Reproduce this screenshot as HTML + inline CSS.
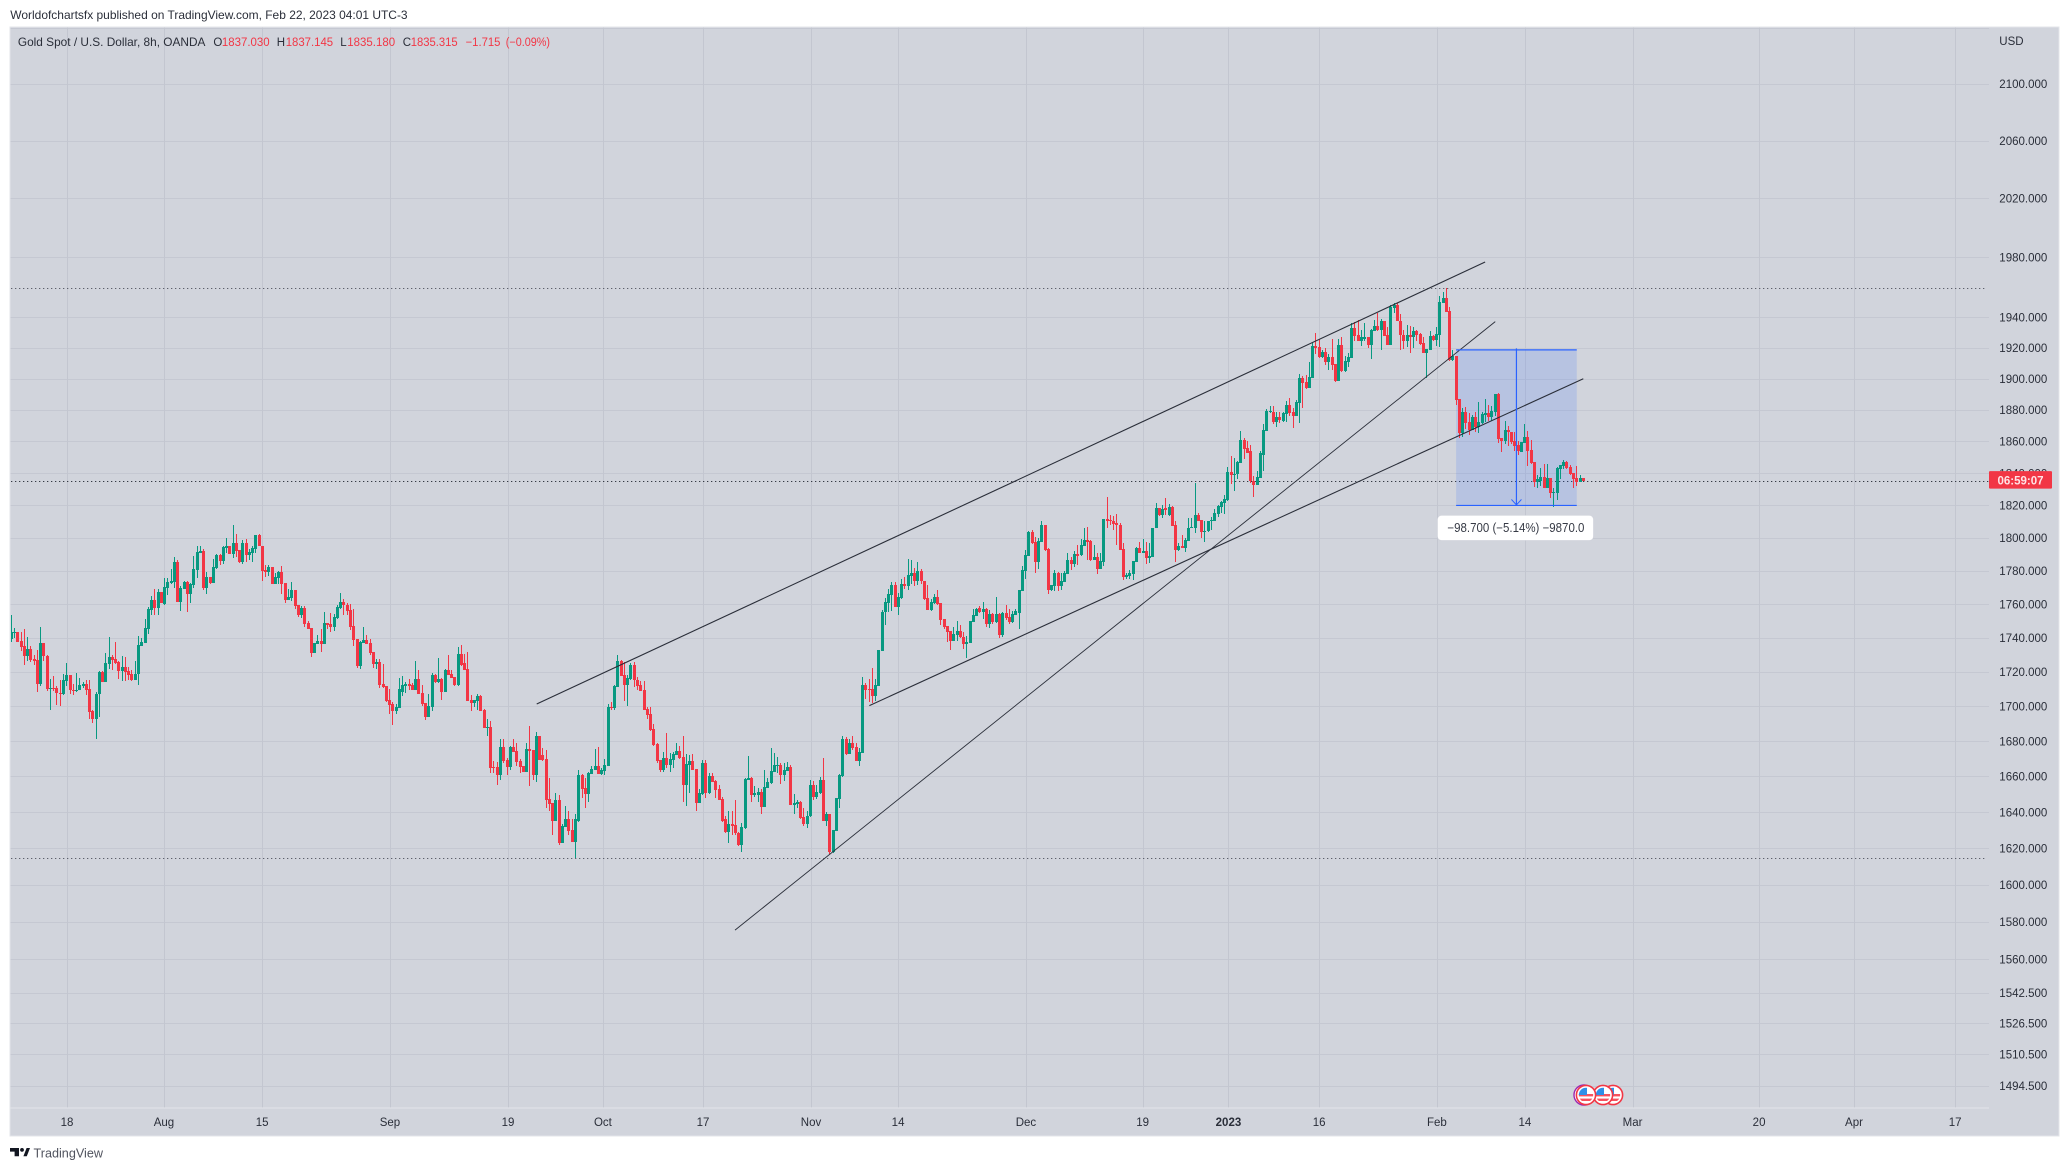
<!DOCTYPE html>
<html lang="en">
<head>
<meta charset="utf-8">
<title>Gold Spot / U.S. Dollar, 8h, OANDA</title>
<style>
html,body{margin:0;padding:0;background:#fff;}
svg{display:block;}
text{font-family:"Liberation Sans",sans-serif;font-size:11.5px;fill:#2a2e39;}
</style>
</head>
<body>
<svg id="chart" xmlns="http://www.w3.org/2000/svg" width="2069" height="1171" viewBox="0 0 2069 1171">
  <defs>
    <clipPath id="paneClip"><rect x="11" y="28" width="1978" height="1080"></rect></clipPath>
    <clipPath id="flagClip"><circle cx="0" cy="0" r="7.2"></circle></clipPath>
  </defs>
  <text id="pubLine" x="10.3" y="19" style="font-size:12px" textLength="397.3" lengthAdjust="spacingAndGlyphs">Worldofchartsfx published on TradingView.com, Feb 22, 2023 04:01 UTC-3</text>
  <rect x="10" y="27" width="2049" height="1109" fill="#d1d4dc" stroke="#e3e5ea" stroke-width="1"></rect>
  <g id="grid"></g>
  <g id="levels" clip-path="url(#paneClip)"></g>
  <rect id="measureFill" fill="#2962ff" fill-opacity="0.15"></rect>
  <g id="candles" clip-path="url(#paneClip)"></g>
  <g id="trendlines" clip-path="url(#paneClip)"></g>
  <g id="measure"></g>
  <line x1="10" y1="1108" x2="1989" y2="1108" stroke="#e3e5ea" stroke-width="1"></line>
  <g>
    <g transform="translate(1613,1095)">
      <circle r="9.6" fill="#fff" stroke="#f23645" stroke-width="1.6"></circle>
      <g clip-path="url(#flagClip)"><rect x="-8" y="-8" width="16" height="16" fill="#fff"></rect><rect x="-8" y="-1" width="16" height="2.4" fill="#f7525f"></rect><rect x="-8" y="3.6" width="16" height="2.4" fill="#f7525f"></rect><rect x="-8" y="-8" width="9" height="8" fill="#2f8fe8"></rect></g>
    </g>
    <g transform="translate(1603,1095)">
      <circle r="9.6" fill="#fff" stroke="#f23645" stroke-width="1.6"></circle>
      <g clip-path="url(#flagClip)"><rect x="-8" y="-8" width="16" height="16" fill="#fff"></rect><rect x="-8" y="-1" width="16" height="2.4" fill="#f7525f"></rect><rect x="-8" y="3.6" width="16" height="2.4" fill="#f7525f"></rect><rect x="-8" y="-8" width="9" height="8" fill="#2f8fe8"></rect></g>
    </g>
    <circle cx="1584" cy="1095" r="10" fill="#fff" stroke="#9c27b0" stroke-width="1.4"></circle>
    <g transform="translate(1586,1095)">
      <circle r="9.6" fill="#fff" stroke="#f23645" stroke-width="1.6"></circle>
      <g clip-path="url(#flagClip)"><rect x="-8" y="-8" width="16" height="16" fill="#fff"></rect><rect x="-8" y="-1" width="16" height="2.4" fill="#f7525f"></rect><rect x="-8" y="3.6" width="16" height="2.4" fill="#f7525f"></rect><rect x="-8" y="-8" width="9" height="8" fill="#2f8fe8"></rect></g>
    </g>
  </g>
  <g>
    <text x="17.9" y="46" style="font-size:12px" textLength="187.5" lengthAdjust="spacingAndGlyphs">Gold Spot / U.S. Dollar, 8h, OANDA</text>
    <text x="213.4" y="46">O</text>
    <text x="221.9" y="46" style="fill:#f23645" textLength="47.7" lengthAdjust="spacingAndGlyphs">1837.030</text>
    <text x="276.8" y="46">H</text>
    <text x="285.7" y="46" style="fill:#f23645" textLength="47.4" lengthAdjust="spacingAndGlyphs">1837.145</text>
    <text x="340.2" y="46">L</text>
    <text x="347.3" y="46" style="fill:#f23645" textLength="47.8" lengthAdjust="spacingAndGlyphs">1835.180</text>
    <text x="402.7" y="46">C</text>
    <text x="410.7" y="46" style="fill:#f23645" textLength="47" lengthAdjust="spacingAndGlyphs">1835.315</text>
    <text x="465.6" y="46" style="fill:#f23645" textLength="34.8" lengthAdjust="spacingAndGlyphs">−1.715</text>
    <text x="505.8" y="46" style="fill:#f23645" textLength="44.2" lengthAdjust="spacingAndGlyphs">(−0.09%)</text>
  </g>
  <text x="1999.3" y="45">USD</text>
  <g id="priceLabels"></g>
  <g id="timeLabels"></g>
  <g id="priceTag"></g>
  <g>
    <path d="M10 1148H19V1156.3H14.6V1151.6H10Z M23.4 1156.3L26.6 1148H30L26.8 1156.3Z" fill="#131722"></path>
    <circle cx="22" cy="1149.9" r="1.9" fill="#131722"></circle>
    <text x="33.5" y="1157.5" style="font-size:13px;fill:#50535e" textLength="69.5" lengthAdjust="spacingAndGlyphs">TradingView</text>
  </g>
</svg>
<script>
const opens=[
1739.3,1743,1743.5,1738,1735.2,1729.5,1733.4,1727.3,1726.9,1712.9,
1737,1729.3,1710,1710.8,1710.4,1707.8,1707.4,1714.7,1718,1709.6,
1708.8,1709.4,1711.7,1712.7,1709.8,1697.4,1692.8,1707,1719.8,1713.9,
1724.7,1728.7,1727.5,1725.7,1720.4,1722.8,1720.4,1718.6,1715.1,1718.8,
1735.2,1737,1745.2,1756.5,1762.4,1757.6,1767.1,1760,1769.5,1772.4,
1773,1785.4,1761.2,1768.9,1773,1765.9,1771.2,1780.7,1791.1,1791.9,
1769.5,1776.6,1772.4,1781.9,1789.6,1786,1793.7,1794.9,1790.2,1797.2,
1792.5,1785.4,1796.7,1789.6,1790.7,1793.1,1802,1794.9,1780.7,1779.5,
1782.5,1771.8,1776,1779.5,1772.4,1762.4,1763.6,1768.3,1759.4,1753.5,
1757.6,1748.8,1745.8,1731,1736.4,1738.1,1736.4,1748.8,1748.2,1746.4,
1751.7,1757.6,1761.2,1759.4,1756.5,1747,1739.3,1723.4,1737,1738.7,
1737,1731.6,1724.5,1725.7,1712.7,1711.5,1703.9,1701.5,1697.4,1699.1,
1708.4,1711.9,1713.1,1712.5,1709.6,1716,1707.8,1701.9,1694,1699.6,
1718.4,1714.3,1716,1708.4,1721.3,1719,1717,1712.5,1730.2,1724.9,
1721.9,1703.7,1701.9,1703.1,1706,1697.9,1687.7,1688.3,1665.2,1665.2,
1660.7,1676.5,1669.1,1665.2,1676.5,1674.2,1668.6,1665.8,1662.4,1675.3,
1674.8,1660.7,1682.7,1672,1669.7,1647.1,1644.9,1635.3,1646.6,1622.9,
1631.9,1635.9,1630.2,1623.4,1635.3,1660.7,1653.3,1649.9,1661.2,1663.5,
1665.8,1661.2,1662.9,1665.8,1699.6,1699,1711.3,1726.6,1718.4,1712.5,
1716,1724.3,1715.5,1712.5,1709.6,1698.5,1695.6,1687.2,1678.2,1669.1,
1663.5,1670.3,1666.3,1669.1,1672,1674.2,1670.8,1655,1666.3,1668.6,
1664,1644.9,1650,1667.4,1650.5,1660.1,1657.3,1652.8,1647.1,1635.9,
1629.1,1633.6,1633,1628.5,1621.8,1631.4,1657.9,1659,1649.4,1649.4,
1651.1,1642.6,1653.3,1656.2,1662.4,1665.8,1666.3,1660.7,1663,1665.2,
1643.8,1644.3,1645.4,1637.5,1633.6,1638.1,1655,1648.3,1650.5,1657.9,
1635.3,1638.7,1617.8,1629.6,1647.1,1660.1,1681.5,1672.5,1678.7,1676.5,
1668.6,1673.1,1712.5,1710.2,1710.2,1706,1711.9,1732.5,1755.4,1760.8,
1765.5,1771.5,1758.4,1763.7,1772,1770.9,1776.8,1778.6,1773.8,1779.8,
1773.8,1763.7,1756.6,1760.8,1764.3,1760.8,1751.3,1747.1,1744.1,1738.2,
1741.8,1744.1,1740.6,1736.4,1737,1749.5,1753,1757.8,1755.4,1757.2,
1748.3,1754.2,1749.5,1754.2,1741.8,1754.8,1752.4,1749.5,1753.6,1754.8,
1767.9,1779.8,1789.1,1803.9,1797.8,1785.4,1797.8,1808.2,1793.5,1768.5,
1770.9,1778.6,1770.9,1773.2,1778,1786.7,1784.2,1790.4,1789.8,1795.3,
1799,1798.4,1786.7,1788.5,1781.2,1785.5,1811.9,1811.3,1810.7,1809.4,
1808.2,1793.5,1776.2,1776.8,1778,1785.5,1794.1,1791,1792.2,1787.9,
1788.5,1805.8,1818.7,1814.4,1818.7,1814.4,1819.3,1808.2,1792.8,1795.3,
1794.1,1798.4,1805.8,1806.4,1814.4,1811.3,1803.9,1804.5,1810.1,1810.7,
1815,1819.3,1821.7,1823.6,1840.8,1838.9,1839.5,1846.6,1860.7,1855.6,
1853.7,1835.1,1832.5,1837,1851.7,1866.5,1878.7,1878.7,1872.2,1875.5,
1872.9,1877.4,1883.2,1878.7,1876.1,1884.4,1900.5,1897.9,1894.1,1900.5,
1921,1920.3,1913.9,1917.1,1911.1,1913.9,1909.4,1898.5,1922.2,1904.9,
1910.7,1913.3,1933.2,1928.7,1924.2,1926.1,1926.8,1922.2,1931.2,1934.4,
1931.9,1937.6,1928.7,1922.2,1946,1947.9,1937.8,1928.7,1924.8,1928.7,
1927.4,1931.3,1929.3,1923.5,1917,1918.9,1928.1,1925.4,1928.7,1949.6,
1952.8,1944.4,1912.4,1915,1886.9,1865.4,1878.7,1872.4,1867.3,1875.5,
1869.2,1871.7,1876.8,1878.1,1875.5,1878.7,1890.1,1862.3,1860.4,1867.3,
1866.1,1860.4,1857.9,1853.4,1859.1,1862.9,1854.7,1847.1,1834.5,1835.1,
1837.6,1830.7,1837,1827.5,1827.5,1842.7,1844.6,1847.1,1843.9,1840.2,
1837,1834.5,1837.03];
const highs=[
1753.5,1745.8,1743.5,1743.5,1745.2,1740.5,1735.2,1729.7,1732.8,1746.4,
1737,1729.9,1715.7,1717.5,1711.5,1715.1,1718.6,1725.1,1718,1712.7,
1719.2,1716.3,1713.9,1715.1,1715.1,1697.9,1708,1720.4,1720.4,1731,
1740.5,1729.9,1737.6,1726.3,1729.3,1728.7,1722.8,1721,1726.3,1741.1,
1739.9,1751.1,1758.2,1764.7,1768.9,1768.9,1767.1,1776,1775.4,1781.3,
1788.4,1786.6,1770.6,1773.6,1773.6,1772.4,1789,1794.9,1794.9,1793.1,
1779.5,1776.6,1787.2,1790.2,1790.2,1794.9,1800.2,1794.9,1807.9,1802.6,
1792.5,1799,1799.6,1793.1,1794.9,1802,1802.6,1794.9,1783.6,1783.6,
1782.5,1778.9,1780.1,1783,1772.4,1768.9,1773,1768.3,1759.4,1758.8,
1758.8,1750,1745.8,1737,1741.7,1745.2,1755.3,1748.8,1754.7,1754.1,
1759.4,1766.5,1763,1760.6,1760,1757,1739.3,1738.1,1746.4,1741.7,
1739.3,1731.6,1727.5,1727.5,1724.5,1711.5,1709.8,1702.7,1701.5,1716.3,
1717.8,1714.3,1716,1713.5,1726.6,1720.8,1712.5,1701.9,1707.2,1719.6,
1719,1728.4,1716.6,1721.9,1729.6,1721.3,1717,1734.3,1735.5,1730.2,
1731.9,1706.6,1703.7,1707.2,1706.6,1698.5,1692.8,1691.7,1668.6,1668.4,
1681,1681,1670.3,1677,1681,1678.7,1669.7,1665.8,1678.7,1688.9,
1674.8,1685.5,1682.7,1675.9,1674.8,1659,1644.9,1650.5,1649.4,1633.6,
1643.2,1640.9,1635.9,1639.2,1663.5,1661.2,1659,1662.4,1665.8,1675.3,
1676.5,1664.6,1669.7,1701.3,1702.5,1712.5,1729.6,1727.2,1725.5,1718.4,
1724.9,1725.5,1717.2,1714.9,1714.9,1699.6,1699.6,1690,1678.7,1669.1,
1673.6,1684.9,1673.1,1673.6,1678.7,1677,1683.2,1672.5,1672,1672.5,
1664,1652.8,1669.1,1669.1,1661.8,1661.8,1657.9,1655,1648.3,1638.1,
1640.9,1640.9,1646.6,1629.1,1634.2,1659,1671.4,1659.5,1654.5,1653.3,
1652.8,1663.5,1659,1675.9,1673.1,1670.8,1667.4,1667.4,1668,1666.3,
1650,1646.6,1646,1642.1,1640.9,1657.9,1657.3,1655,1659.5,1670.3,
1639.8,1639.2,1630.2,1647.7,1661.2,1682.7,1682.1,1681,1682.7,1678.7,
1675.9,1717.2,1713.7,1716,1722.5,1716,1733.1,1756.6,1763.7,1769.1,
1773.2,1773.2,1766.7,1775,1776.2,1787.3,1786.7,1781.8,1785.5,1781.1,
1773.8,1771.5,1763.1,1766.1,1768.5,1760.8,1751.3,1747.1,1744.1,1746.5,
1750.1,1747.7,1743.5,1741.2,1750.1,1757.2,1757.8,1759,1761.4,1757.8,
1756.6,1754.8,1764.3,1754.8,1755.4,1759.6,1757.2,1756,1757.2,1768.5,
1783,1792.8,1804.5,1805.1,1800.8,1800.2,1810.7,1808.2,1794.1,1771.5,
1780.5,1779.2,1778.6,1779.8,1791,1788.5,1792.2,1795.9,1799.6,1806.4,
1807,1799,1795.9,1791,1791,1811.9,1825.4,1814.4,1813.7,1815,
1809.4,1797.1,1778.6,1780.5,1786.1,1794.7,1797.8,1799.6,1797.8,1797.1,
1806.4,1821.7,1818.7,1820.5,1824.8,1821.1,1819.9,1810.7,1797.1,1802.1,
1800.2,1812.5,1812.5,1834,1815.6,1811.3,1810.7,1810.7,1813.1,1818,
1820.5,1823,1826.7,1844,1850.5,1849.8,1847.9,1866.5,1862,1860.1,
1857.5,1838.1,1841.5,1853.7,1871,1880.6,1882.5,1882.5,1878.7,1878.7,
1878.7,1885.7,1887.6,1881.2,1886.4,1903,1901.8,1902.4,1910.7,1922.9,
1930,1925.5,1918.4,1919.7,1915.8,1925.5,1909.4,1926.1,1926.8,1914.6,
1916.5,1936.4,1937,1938.3,1931.9,1936.4,1926.8,1932.5,1938.3,1942.8,
1938.9,1937.6,1933.8,1948.5,1949.2,1949.2,1942.4,1932,1935.2,1934.6,
1933.9,1932,1930,1927.4,1919.6,1931.3,1928.7,1933.9,1954.1,1956.8,
1959.4,1947,1918.9,1915,1886.9,1881.2,1881.9,1878.1,1876.8,1878.7,
1885,1878.7,1886.9,1883.1,1882.5,1890.1,1890.7,1862.3,1873,1869.9,
1866.1,1866.1,1860.4,1859.7,1871.1,1866.7,1861,1847.1,1838.9,1843.3,
1845.9,1845.9,1837,1830.7,1844,1845.2,1848.4,1847.7,1845.2,1840.2,
1844.6,1838.9,1837.15];
const lows=[
1737.6,1739.9,1737.8,1732.2,1724.2,1726.5,1725.9,1724.2,1708.2,1711.7,
1726.5,1708.8,1698.1,1708.8,1700.5,1699.9,1706.8,1711.7,1707,1706.4,
1708.2,1709.4,1710.4,1706.8,1692.8,1690.5,1681,1694,1713.9,1713.9,
1721.6,1721,1724.5,1715.7,1714.5,1714.7,1715.1,1714.5,1715.1,1712.1,
1735.2,1737,1742.3,1753.5,1753.5,1753.5,1760.6,1759.4,1765.3,1771.8,
1769.5,1761.2,1755.9,1768.9,1755.3,1760.6,1769.5,1775.4,1791.1,1768.3,
1765.9,1771.8,1772.4,1781.3,1783.6,1784.2,1790.7,1790.2,1787.8,1788.4,
1784.8,1784.2,1785.4,1786.6,1785.4,1790.7,1794.9,1773.6,1776.6,1777.1,
1771.8,1771.8,1771.8,1765.9,1760.6,1762.4,1761.8,1757,1752.3,1751.7,
1746.4,1745.2,1728.7,1731,1736.4,1731.6,1736.4,1745.2,1743.5,1744,
1751.1,1757,1753.5,1753.5,1744.6,1735.2,1722.2,1721.6,1737,1736.4,
1729.9,1722.2,1721.6,1710.4,1710.4,1702.7,1695.6,1689.1,1695.6,1699.1,
1706,1707.8,1709.6,1709.6,1709.6,1707.2,1700.2,1692.3,1694,1697.3,
1713.7,1713.7,1703.7,1708.4,1718.4,1716.6,1711.9,1711.9,1723.7,1721.3,
1703.1,1697.3,1699.6,1697.9,1697.3,1687.7,1683.2,1661.8,1661.8,1655,
1657.9,1667.4,1660.7,1663.5,1673.6,1665.8,1661.8,1662.4,1662.4,1654.5,
1657.9,1656.7,1669.1,1668.6,1642.1,1640.9,1627.4,1635.3,1621.8,1622.9,
1631.9,1627.4,1623.4,1614.8,1634.7,1647.7,1642.1,1645.4,1661.2,1663.5,
1661.2,1660.7,1660.7,1665.8,1697.9,1697.9,1711.3,1717.8,1703.1,1700.2,
1715.5,1711.3,1709.6,1709,1697.9,1692.8,1686,1677,1667.4,1662.4,
1662.4,1664.6,1662.4,1664.6,1672,1669.7,1645.4,1643.2,1650.5,1663.5,
1640.9,1644.9,1649.4,1647.7,1650,1656.7,1647.7,1646.6,1634.7,1628.5,
1622.9,1627.4,1627.4,1621.2,1617.8,1630.8,1657.9,1645.4,1648.3,1645.4,
1639.2,1642.6,1653.3,1655.6,1662.4,1661.8,1655.6,1657.3,1663,1643.8,
1639.2,1642.1,1636.4,1632.5,1631.4,1637.5,1646.6,1647.1,1650,1635.3,
1632.5,1616.7,1617.2,1629.6,1642.1,1659.5,1672,1672.5,1674.8,1668.6,
1665.8,1673.1,1704.3,1702.5,1701.9,1703.1,1711.9,1732.5,1747.7,1755.4,
1756,1758.4,1753.6,1763.1,1769.1,1768.5,1772,1770.9,1771.5,1772,
1762.5,1756.6,1756,1760.2,1759.6,1747.7,1745.3,1737.6,1732.8,1738.2,
1738.2,1740,1733.4,1728.1,1737,1749.5,1753,1754.8,1751.3,1746.5,
1745.9,1748.3,1748.9,1740,1740.6,1750.7,1748.3,1748.9,1753.6,1745.3,
1767.9,1775,1789.1,1796.5,1778.6,1781.1,1797.8,1792.2,1766.1,1767.9,
1767.9,1767.9,1768.5,1773.2,1778,1780.5,1782.4,1783.6,1789.1,1795.3,
1786.7,1786.1,1786.7,1778,1781.2,1783,1806.4,1808.2,1805.1,1795.9,
1792.8,1774.4,1775,1775,1774.4,1785.5,1791,1791,1784.2,1784.8,
1788.5,1805.8,1813.7,1812.5,1814.4,1813.7,1807.6,1785.5,1792.2,1794.1,
1791.6,1798.4,1805.8,1803.3,1810.7,1800.2,1797.8,1803.9,1805.1,1810.1,
1813.1,1815.6,1815,1823,1833.2,1828.7,1836.3,1846.6,1849.2,1853,
1833.8,1825.5,1832.5,1837,1841.5,1866.5,1878,1871,1869,1871.6,
1872.2,1872.2,1876.1,1868.4,1876.1,1871.6,1881.2,1893.4,1894.1,1900.5,
1915.8,1913.3,1913.3,1908.8,1905.6,1905.6,1897.9,1898.5,1904.3,1904.3,
1907.5,1913.3,1924.2,1924.2,1921,1924.8,1919.7,1912.6,1931.2,1931.2,
1918.4,1928,1921.6,1922.2,1942.8,1937.6,1918.9,1919.6,1920.9,1917,
1920.2,1924.8,1922.2,1917,1900.7,1918.9,1924.8,1921.5,1920.9,1949.6,
1943.7,1911.7,1911.7,1883.1,1862.3,1862.9,1868,1864.2,1867.3,1866.1,
1865.4,1871.1,1872.4,1873,1873,1876.2,1859.1,1853.4,1858.5,1857.2,
1858.5,1854.1,1851.5,1853.4,1859.1,1844.6,1845.9,1831.3,1830.7,1832,
1830.7,1830.7,1824.4,1819.3,1823.1,1836.4,1842.7,1842.7,1838.9,1830.7,
1832,1834.5,1835.18];
const closes=[
1743.5,1743.5,1737.8,1734.8,1729.5,1733.4,1727.1,1726.5,1712.9,1737,
1729.1,1710,1710.8,1710,1707.6,1707.4,1715.1,1718,1709.4,1708.8,
1709.6,1712.1,1712.7,1709.4,1697,1692.8,1707.4,1719.8,1713.9,1725.1,
1728.7,1726.9,1725.1,1720.4,1722.8,1720,1718.2,1715.1,1718.8,1735.8,
1737.6,1745.8,1757,1762.4,1757.6,1767.1,1760.6,1770,1773,1773.6,
1785.4,1761.2,1769.5,1773,1765.9,1771.8,1781.3,1791.3,1791.9,1769.5,
1776.6,1772.4,1782.5,1789.6,1786,1794.3,1794.9,1790.2,1797.2,1791.9,
1785.4,1796.7,1789.6,1791.3,1793.7,1802,1794.9,1780.1,1779.5,1782.5,
1771.8,1776.6,1779.5,1771.8,1762.4,1764.1,1768.3,1758.8,1753.5,1757.6,
1748.2,1745.2,1731,1737,1738.1,1736.4,1748.8,1747.6,1746.4,1752.3,
1758.2,1761.2,1759.4,1755.9,1746.4,1738.7,1723.4,1737.6,1738.7,1736.4,
1731,1724.5,1725.7,1712.1,1711,1703.3,1700.9,1697.4,1699.7,1709.8,
1712.5,1713.1,1711.9,1709.6,1716,1707.2,1701.3,1694,1700.2,1718.4,
1714.3,1716,1708.4,1721.3,1718.4,1716.6,1712.5,1730.2,1724.3,1721.3,
1703.1,1701.9,1703.7,1706,1697.3,1687.7,1688.3,1664.6,1664.6,1660.7,
1676.5,1668.6,1665.2,1676.5,1673.6,1668,1665.2,1662.4,1675.3,1674.2,
1660.7,1682.7,1669.1,1669.1,1646.6,1644.3,1635.3,1646.6,1622.9,1632.5,
1635.9,1629.6,1623.4,1635.9,1660.7,1652.8,1650,1661.8,1664,1665.8,
1661.2,1663.5,1666.3,1699.6,1699,1711.9,1726.6,1717.8,1712.5,1716.6,
1724.3,1715.5,1711.9,1709,1697.9,1695.1,1686.6,1677.6,1668.6,1663.5,
1670.3,1666.3,1669.7,1672.5,1674.2,1670.3,1655,1666.9,1668.6,1663.5,
1644.9,1650.5,1667.4,1650.5,1660.1,1656.7,1652.2,1646.6,1635.3,1629.1,
1633.6,1632.5,1628.5,1621.8,1631.9,1658.4,1659,1649.4,1650.5,1651.1,
1642.6,1653.9,1656.7,1662.9,1666.3,1666.3,1660.7,1663.5,1665.2,1643.8,
1644.9,1645.4,1637,1633.6,1638.1,1655,1648.3,1651.1,1657.9,1635.3,
1638.7,1617.8,1630.2,1647.7,1660.7,1681.5,1672.5,1678.7,1675.9,1668.6,
1673.6,1712.5,1709.6,1709.6,1706,1712.5,1733.1,1755.4,1761.2,1766.1,
1771.5,1758.4,1764.3,1772,1770.9,1777.4,1778.6,1773.8,1779.8,1773.8,
1763.1,1756.6,1761.3,1764.3,1760.2,1750.7,1746.5,1743.5,1738.2,1742.3,
1744.1,1740.6,1736.4,1737.6,1749.9,1753.6,1757.2,1755.4,1757.2,1748.3,
1754.2,1749.5,1754.2,1741.8,1754.8,1751.9,1749.5,1754.2,1756,1768.5,
1780.5,1789.8,1803.9,1797.1,1785.4,1798.4,1808.2,1792.8,1768.5,1771.5,
1778.6,1770.9,1773.8,1778.6,1786.7,1784.2,1790.4,1789.1,1795.9,1799,
1797.8,1786.7,1788.5,1781.2,1786.1,1811.9,1810.7,1810.1,1808.8,1808.2,
1792.8,1776.2,1777.4,1778.6,1786.1,1794.1,1791,1792.2,1787.9,1789.1,
1806.4,1818.7,1814.4,1818,1817.4,1819.3,1807.6,1792.8,1795.3,1794.1,
1799,1806.4,1807,1814.4,1810.7,1803.9,1804.5,1810.7,1811.3,1815.6,
1819.9,1822.4,1824.2,1840.8,1838.9,1839.5,1847.3,1860.7,1855,1853,
1835.1,1832.5,1837.6,1852.4,1867.1,1879.3,1879.3,1872.2,1875.5,1873.5,
1878,1883.2,1878,1876.1,1885,1900.5,1897.3,1894.1,1901.1,1921,
1919.7,1913.9,1917.1,1911.1,1913.9,1908.8,1898.5,1922.2,1904.9,1911.4,
1913.9,1933.2,1928,1924.2,1926.8,1926.8,1922.2,1931.9,1934.4,1931.9,
1937.6,1928,1922.2,1946.6,1948.5,1937.6,1928.7,1924.8,1928.7,1927.4,
1931.3,1928.7,1922.8,1917,1919.6,1928.1,1925.4,1929.4,1950.2,1952.8,
1943.7,1912.4,1915,1886.3,1865.4,1878.7,1871.7,1867.3,1875.5,1869.2,
1872.4,1877.4,1878.1,1875.5,1879.3,1890.1,1861.6,1860.4,1867.3,1866.1,
1859.7,1857.2,1854.1,1859.7,1862.9,1854.1,1846.5,1834.5,1836.4,1837.6,
1830.7,1837,1827.5,1828.2,1843.3,1845.2,1847.1,1843.3,1839.5,1836.4,
1834.5,1837,1835.32];

const gridPrices=[2140,2100,2060,2020,1980,1940,1920,1900,1880,1860,1840,1820,1800,1780,1760,1740,1720,1700,1680,1660,1640,1620,1600,1580,1560,1542.5,1526.5,1510.5,1494.5];
const priceTickLabels=[2100,2060,2020,1980,1940,1920,1900,1880,1860,1840,1820,1800,1780,1760,1740,1720,1700,1680,1660,1640,1620,1600,1580,1560,1542.5,1526.5,1510.5,1494.5];
const timeTickLabels=["18","Aug","15","Sep","19","Oct","17","Nov","14","Dec","19","2023","16","Feb","14","Mar","20","Apr","17"];
const timeTickBars=[17.1,46.8,76.9,116.1,152.3,181.4,212.1,245.2,271.9,311.1,346.9,373.2,401,437.1,464.1,497.1,535.9,565,596];
const dottedLevels=[1959.3,1614.6];
const currentPriceLevels=[1835.32];
const trendStartBars=[161.1,263.1,221.9];
const trendStartPrices=[1701.3,1700.4,1575.6];
const trendEndBars=[451.9,482,455];
const trendEndPrices=[1976.8,1900,1937.2];
const measureBars=[443,480];
const measurePrices=[1918.7,1820];
const measureText="−98.700 (−5.14%) −9870.0";
const lastPriceCountdown="06:59:07";

const SVGNS="http://www.w3.org/2000/svg";
function xScale(bar){return 11.3+3.2614*bar;}
function yScale(price){return 84+2945*Math.log(2100/price);}
function make(tag,parent,attrs){
  const el=document.createElementNS(SVGNS,tag);
  for(const k in attrs){el.setAttribute(k,attrs[k]);}
  parent.appendChild(el);
  return el;
}

const gridG=document.getElementById("grid");
gridPrices.forEach(function(p){
  const l=make("line",gridG,{x1:10.5,x2:1989,y1:Math.round(yScale(p))+0.5,y2:Math.round(yScale(p))+0.5,stroke:"#c5c8d2","stroke-width":1});
  
  
});
timeTickBars.forEach(function(b){
  const x=Math.round(xScale(b))+0.5;
  const l=make("line",gridG,{x1:x,x2:x,y1:27.5,y2:1108,stroke:"#c3c6d0","stroke-width":1});
  
  
});

const levelsG=document.getElementById("levels");
dottedLevels.forEach(function(p){
  const y=Math.round(yScale(p))+0.5;
  const l=make("line",levelsG,{x1:11,x2:1987,y1:y,y2:y,stroke:"#5d606b","stroke-width":1,"stroke-dasharray":"1.3 2.7"});
  
  
});
currentPriceLevels.forEach(function(p){
  const y=Math.round(yScale(p))+0.5;
  const l=make("line",levelsG,{x1:11,x2:1989,y1:y,y2:y,stroke:"#363a45","stroke-width":1,"stroke-dasharray":"1.3 2.7"});
  
  
});

const candleG=document.getElementById("candles");
opens.forEach(function(o,i){
  const c=closes[i],h=highs[i],lo=lows[i];
  const col=c>=o?"#089981":"#f23645";
  const cx=xScale(i);
  const g=make("g",candleG,{"shape-rendering":"crispEdges"});
  
  
  const wickX=Math.round(cx-0.5);
  const yH=yScale(h),yL=yScale(lo);
  const wick=make("rect",g,{x:wickX,y:Math.round(yH),width:1,height:Math.max(1,Math.round(yL)-Math.round(yH)),fill:col});
  
  
  const t=Math.round(yScale(Math.max(o,c))),b=Math.round(yScale(Math.min(o,c)));
  const body=make("rect",g,{x:wickX-1,y:t,width:3,height:Math.max(1,b-t),fill:col});
  
  
});

const trendG=document.getElementById("trendlines");
trendStartBars.forEach(function(b,i){
  const l=make("line",trendG,{x1:xScale(b),y1:yScale(trendStartPrices[i]),x2:xScale(trendEndBars[i]),y2:yScale(trendEndPrices[i]),stroke:"#2a2e39","stroke-width":i===2?0.9:1.1});
  
  
});

const mx1=xScale(measureBars[0]),mx2=xScale(measureBars[1]);
const my1=yScale(measurePrices[0]),my2=yScale(measurePrices[1]);
const mf=document.getElementById("measureFill");
mf.setAttribute("x",mx1);mf.setAttribute("y",my1);mf.setAttribute("width",mx2-mx1);mf.setAttribute("height",my2-my1);
const measureG=document.getElementById("measure");
const mTop=make("line",measureG,{x1:mx1,x2:mx2,y1:my1,y2:my1,stroke:"#2962ff","stroke-width":1.2});


const mBot=make("line",measureG,{x1:mx1,x2:mx2,y1:my2,y2:my2,stroke:"#2962ff","stroke-width":1.2});


const midX=(mx1+mx2)/2;
const mVert=make("line",measureG,{x1:midX,x2:midX,y1:my1-1.5,y2:my2,stroke:"#2962ff","stroke-width":1.2});


const mHead=make("path",measureG,{d:"M"+(midX-5)+" "+(my2-6)+"L"+midX+" "+(my2-0.5)+"L"+(midX+5)+" "+(my2-6),fill:"none",stroke:"#2962ff","stroke-width":1});


const mBox=make("rect",measureG,{x:midX-79,y:my2+10,width:156,height:25,rx:4,fill:"#ffffff",stroke:"#c5c8d2","stroke-opacity":0.5,"stroke-width":0.7});


const mTxt=make("text",measureG,{x:midX-69,y:my2+26.5,textLength:137,lengthAdjust:"spacingAndGlyphs"});
mTxt.textContent=measureText;


mTxt.style.fontSize="12.5px";
mTxt.style.fill="#363a45";

const priceG=document.getElementById("priceLabels");
priceTickLabels.forEach(function(p){
  const t=make("text",priceG,{x:1999.3,y:yScale(p)+4.2});
  t.textContent=p.toFixed(3);
  
  
});

const timeG=document.getElementById("timeLabels");
timeTickLabels.forEach(function(s,i){
  const t=make("text",timeG,{x:xScale(timeTickBars[i]),y:1126,"text-anchor":"middle"});
  t.textContent=s;
  if(s==="2023"){t.style.fontWeight="bold";}
  
  
});

const tagG=document.getElementById("priceTag");
const lastY=yScale(closes[closes.length-1]);
const tagRect=make("rect",tagG,{x:1989,y:lastY-9.6,width:63,height:17.5,fill:"#f23645",rx:1});


const tagText=make("text",tagG,{x:2020.5,y:lastY+3.6,"text-anchor":"middle"});
tagText.textContent=lastPriceCountdown;
tagText.style.fill="#ffe3e6";
tagText.style.fontWeight="bold";


</script>
</body>
</html>
